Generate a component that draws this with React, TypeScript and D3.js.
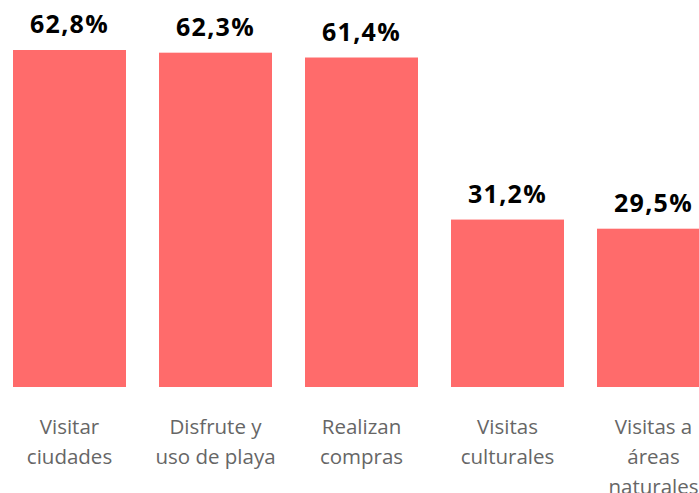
import React from "react";
import * as d3 from "d3";

const categories: string[][] = [
  ["Visitar", "ciudades"],
  ["Disfrute y", "uso de playa"],
  ["Realizan", "compras"],
  ["Visitas", "culturales"],
  ["Visitas a", "áreas", "naturales"],
];
const values: number[] = [62.8, 62.3, 61.4, 31.2, 29.5];
const valueLabels: string[] = ["62,8%", "62,3%", "61,4%", "31,2%", "29,5%"];

const W = 699;
const H = 493;

export default function App() {
  const keys = categories.map((c, i) => String(i));
  const x = d3.scaleBand<string>().domain(keys).range([13, 710]).paddingInner(33 / 146).paddingOuter(0);
  const y = d3.scaleLinear().domain([0, 62.8]).range([387, 50]);
  const font = "'Open Sans', 'Noto Sans', sans-serif";
  return (
    <svg width={W} height={H} style={{ position: "absolute", left: 0, top: 0, background: "#fff" }}>
      {values.map((v, i) => {
        const bx = x(keys[i])!;
        const bw = x.bandwidth();
        const cx = bx + bw / 2;
        return (
          <g key={i}>
            <rect x={bx} y={y(v)} width={bw} height={y(0) - y(v)} fill="#FF6B6B" />
            <text x={cx} y={y(v) - 17} textAnchor="middle" fontFamily={font} fontWeight={700} fontSize={25} letterSpacing={1.3} fill="#000">
              {valueLabels[i]}
            </text>
            <text textAnchor="middle" fontFamily={font} fontSize={20.5} fill="#666">
              {categories[i].map((line, j) => (
                <tspan key={j} x={cx} y={434 + j * 30}>{line}</tspan>
              ))}
            </text>
          </g>
        );
      })}
    </svg>
  );
}
